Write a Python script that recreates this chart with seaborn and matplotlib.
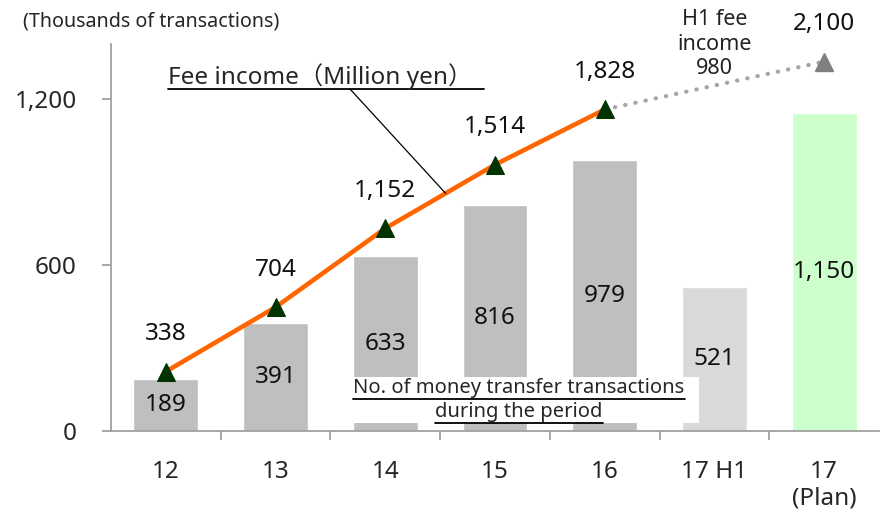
import matplotlib
matplotlib.use("Agg")
import matplotlib.pyplot as plt
import seaborn as sns
from matplotlib.patches import Rectangle
from matplotlib.lines import Line2D

# ---- data ----
categories = ["12", "13", "14", "15", "16", "17 H1", "17\n(Plan)"]
transactions = [189, 391, 633, 816, 979, 521, 1150]
bar_colors = ["#BFBFBF"] * 5 + ["#D9D9D9", "#CCFFCC"]
fee_income = [338, 704, 1152, 1514, 1828]
fee_plan = 2100
h1_fee = 980

sns.set_theme(style="white")
plt.rcParams["font.family"] = ["Noto Sans", "Noto Sans CJK JP", "DejaVu Sans"]
FS = 17.5
W, H = 881, 519

fig = plt.figure(figsize=(W / 100, H / 100), dpi=100)
ax = fig.add_axes([111 / W, 88 / H, 768 / W, 387 / H])

sns.barplot(x=categories, y=transactions, hue=categories, palette=bar_colors,
            legend=False, width=0.59, saturation=1, ax=ax)
for c in ax.containers:
    ax.bar_label(c, labels=[f"{v:,.0f}" for v in c.datavalues],
                 label_type="center", fontsize=FS, color="#111111", zorder=5)

ax.set_xlim(-0.5, len(categories) - 0.5)
ax.set_ylim(0, 1400)
ax.set_yticks([0, 600, 1200])
ax.set_yticklabels([f"{v:,}" for v in [0, 600, 1200]])
ax.set_xlabel("")
ax.set_ylabel("")
for s in ["top", "right"]:
    ax.spines[s].set_visible(False)
for s in ["left", "bottom"]:
    ax.spines[s].set_color("#A0A0A0")
    ax.spines[s].set_linewidth(1.3)
ax.tick_params(axis="y", which="major", direction="out", length=6.5, width=1.3,
               color="#A0A0A0", pad=18, labelsize=FS, left=True)
ax.tick_params(axis="x", which="major", length=0, pad=21, labelsize=FS)
ax.set_xticks([i + 0.5 for i in range(len(categories) - 1)], minor=True)
ax.tick_params(axis="x", which="minor", direction="out", length=6.5, width=1.3,
               color="#A0A0A0", bottom=True)
for lbl in ax.get_xticklabels():
    lbl.set_linespacing(1.15)

# white box with caption over the bars
ax.add_patch(Rectangle((1.7, 29), 3.16, 166, facecolor="white", edgecolor="none", zorder=3))
cap1 = fig.text(353 / W, 1 - 388 / H, "No. of money transfer transactions",
                ha="left", va="center", fontsize=14.5, zorder=6)
cap2 = fig.text(519 / W, 1 - 412 / H, "during the period",
                ha="center", va="center", fontsize=14.5, zorder=6)

# fee income line on hidden secondary axis
ax2 = ax.twinx()
ax2.set_ylim(0, 2200)
ax2.axis("off")
xs = list(range(len(fee_income)))
sns.lineplot(x=xs, y=fee_income, ax=ax2, color="#FF6600", linewidth=3.3,
             marker="^", markersize=13, markerfacecolor="#003300",
             markeredgecolor="#003300")
ax2.plot([xs[-1], len(categories) - 1], [fee_income[-1], fee_plan], color="#A6A6A6",
         linewidth=3, linestyle=(0, (0.1, 2.4)), dash_capstyle="round", zorder=1)
ax2.plot([len(categories) - 1], [fee_plan], marker="^", markersize=13,
         color="#808080", linestyle="none")
for x, v in zip(xs + [len(categories) - 1], fee_income + [fee_plan]):
    ax2.annotate(f"{v:,}", (x, v), xytext=(0, 27), textcoords="offset points",
                 ha="center", va="center", fontsize=FS, color="#111111")

ax2.text(5, 1.0, f"H1 fee\nincome\n{h1_fee}", transform=ax2.get_xaxis_transform(),
         ha="center", va="center", fontsize=15.5, linespacing=1.2, color="#222222")

fee_lbl = fig.text(168 / W, 1 - 77 / H, "Fee income（Million yen）", ha="left",
                   va="center", fontsize=FS)
fig.text(23 / W, 1 - 21 / H, "(Thousands of transactions)", ha="left",
         va="center", fontsize=14.2)

# leader line from label to the fee line
t = 0.55
ax2.annotate("", xy=(2 + t, fee_income[2] + t * (fee_income[3] - fee_income[2])),
             xytext=(350, H - 89), textcoords="figure pixels",
             arrowprops=dict(arrowstyle="-", color="black", lw=0.9, shrinkA=0, shrinkB=0))

# underlines drawn under the text extents
fig.canvas.draw()
r = fig.canvas.get_renderer()
def underline(txt, y_px, x1_px=None):
    bb = txt.get_window_extent(r)
    x1 = bb.x1 if x1_px is None else x1_px
    fig.add_artist(Line2D([bb.x0 / W, x1 / W], [1 - y_px / H, 1 - y_px / H],
                          color="black", lw=1.3))
underline(fee_lbl, 89, 484)
underline(cap1, 399, 685)
underline(cap2, 423)

fig.savefig("out.png", dpi=100)
